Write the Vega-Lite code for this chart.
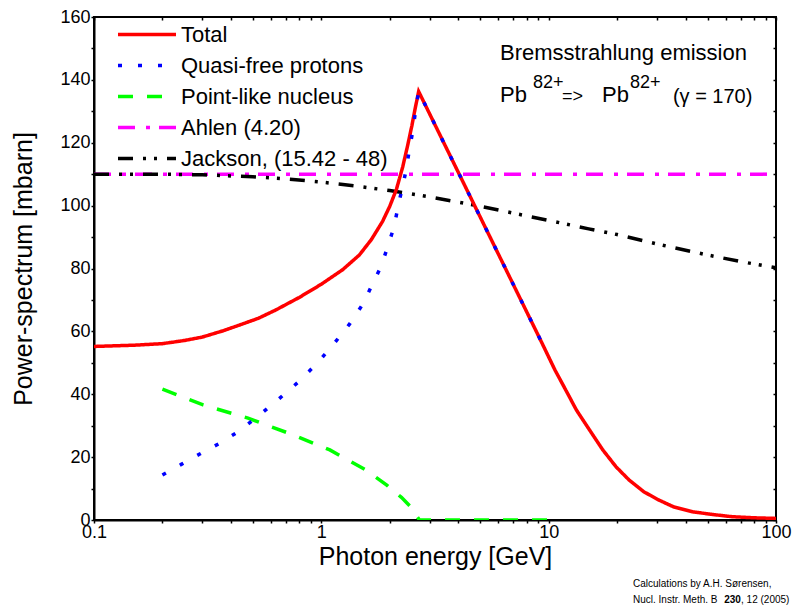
{
  "$schema": "https://vega.github.io/schema/vega-lite/v6.json",
  "width": 682,
  "height": 503,
  "autosize": {"type": "none"},
  "padding": {"left": 94, "top": 17, "right": 33, "bottom": 86},
  "background": "white",
  "config": {
    "font": "Liberation Sans",
    "view": {"stroke": "black", "strokeWidth": 2},
    "axis": {
      "labelFont": "Liberation Sans", "labelFontSize": 18, "labelColor": "black",
      "titleFont": "Liberation Sans", "titleFontSize": 25, "titleFontWeight": "normal", "titleColor": "black",
      "domainColor": "black", "domainWidth": 2, "tickColor": "black", "tickWidth": 1.5, "tickSize": 3,
      "grid": false, "labelFlush": false, "labelOverlap": false
    },
    "legend": {
      "labelFont": "Liberation Sans", "labelFontSize": 22, "labelColor": "black", "labelLimit": 400,
      "symbolType": "stroke", "symbolSize": 3364, "symbolStrokeWidth": 3.5,
      "labelOffset": 3, "rowPadding": 0, "padding": 0, "clipHeight": 31
    }
  },
  "datasets": {
    "curves": [
      {"series": "Ahlen (4.20)", "energy": 0.1, "power": 110},
      {"series": "Ahlen (4.20)", "energy": 100, "power": 110},

      {"series": "Jackson, (15.42 - 48)", "energy": 0.1, "power": 110},
      {"series": "Jackson, (15.42 - 48)", "energy": 0.2, "power": 110},
      {"series": "Jackson, (15.42 - 48)", "energy": 0.3, "power": 109.8},
      {"series": "Jackson, (15.42 - 48)", "energy": 0.5, "power": 109.2},
      {"series": "Jackson, (15.42 - 48)", "energy": 0.7, "power": 108.5},
      {"series": "Jackson, (15.42 - 48)", "energy": 1, "power": 107.5},
      {"series": "Jackson, (15.42 - 48)", "energy": 1.5, "power": 106},
      {"series": "Jackson, (15.42 - 48)", "energy": 2, "power": 104.8},
      {"series": "Jackson, (15.42 - 48)", "energy": 3, "power": 102.8},
      {"series": "Jackson, (15.42 - 48)", "energy": 5, "power": 99.8},
      {"series": "Jackson, (15.42 - 48)", "energy": 7, "power": 97.6},
      {"series": "Jackson, (15.42 - 48)", "energy": 10, "power": 95.3},
      {"series": "Jackson, (15.42 - 48)", "energy": 15, "power": 92.6},
      {"series": "Jackson, (15.42 - 48)", "energy": 20, "power": 90.8},
      {"series": "Jackson, (15.42 - 48)", "energy": 30, "power": 87.8},
      {"series": "Jackson, (15.42 - 48)", "energy": 50, "power": 84.3},
      {"series": "Jackson, (15.42 - 48)", "energy": 70, "power": 82.2},
      {"series": "Jackson, (15.42 - 48)", "energy": 100, "power": 80.2},

      {"series": "Total", "energy": 0.1, "power": 55.2},
      {"series": "Total", "energy": 0.15, "power": 55.6},
      {"series": "Total", "energy": 0.2, "power": 56.1},
      {"series": "Total", "energy": 0.25, "power": 57.1},
      {"series": "Total", "energy": 0.3, "power": 58.2},
      {"series": "Total", "energy": 0.37, "power": 60.2},
      {"series": "Total", "energy": 0.44, "power": 62.1},
      {"series": "Total", "energy": 0.53, "power": 64.2},
      {"series": "Total", "energy": 0.63, "power": 66.8},
      {"series": "Total", "energy": 0.8, "power": 70.8},
      {"series": "Total", "energy": 1.0, "power": 75.0},
      {"series": "Total", "energy": 1.24, "power": 79.6},
      {"series": "Total", "energy": 1.47, "power": 84.3},
      {"series": "Total", "energy": 1.66, "power": 89.2},
      {"series": "Total", "energy": 1.86, "power": 95.0},
      {"series": "Total", "energy": 2.0, "power": 99.8},
      {"series": "Total", "energy": 2.14, "power": 105.2},
      {"series": "Total", "energy": 2.28, "power": 112.3},
      {"series": "Total", "energy": 2.4, "power": 119.3},
      {"series": "Total", "energy": 2.5, "power": 125.3},
      {"series": "Total", "energy": 2.58, "power": 130.5},
      {"series": "Total", "energy": 2.68, "power": 136.3},
      {"series": "Total", "energy": 9.2, "power": 57.3},
      {"series": "Total", "energy": 10.66, "power": 47.7},
      {"series": "Total", "energy": 11.9, "power": 41.3},
      {"series": "Total", "energy": 13.24, "power": 35.0},
      {"series": "Total", "energy": 15.3, "power": 28.1},
      {"series": "Total", "energy": 17.3, "power": 22.3},
      {"series": "Total", "energy": 19.8, "power": 16.9},
      {"series": "Total", "energy": 22.6, "power": 12.7},
      {"series": "Total", "energy": 26.2, "power": 9.0},
      {"series": "Total", "energy": 30.4, "power": 6.4},
      {"series": "Total", "energy": 35.4, "power": 4.2},
      {"series": "Total", "energy": 43, "power": 2.6},
      {"series": "Total", "energy": 52, "power": 1.8},
      {"series": "Total", "energy": 64, "power": 1.05},
      {"series": "Total", "energy": 80, "power": 0.7},
      {"series": "Total", "energy": 100, "power": 0.5},

      {"series": "Point-like nucleus", "energy": 0.2, "power": 41.6},
      {"series": "Point-like nucleus", "energy": 0.302, "power": 36.6},
      {"series": "Point-like nucleus", "energy": 0.476, "power": 32.4},
      {"series": "Point-like nucleus", "energy": 0.75, "power": 27.1},
      {"series": "Point-like nucleus", "energy": 1.09, "power": 22.3},
      {"series": "Point-like nucleus", "energy": 1.57, "power": 15.9},
      {"series": "Point-like nucleus", "energy": 1.94, "power": 11.1},
      {"series": "Point-like nucleus", "energy": 2.25, "power": 7.2},
      {"series": "Point-like nucleus", "energy": 2.45, "power": 4.5},
      {"series": "Point-like nucleus", "energy": 2.6, "power": 1.8},
      {"series": "Point-like nucleus", "energy": 2.7, "power": 0},
      {"series": "Point-like nucleus", "energy": 10, "power": 0},

      {"series": "Quasi-free protons", "energy": 0.2, "power": 14.3},
      {"series": "Quasi-free protons", "energy": 0.242, "power": 17.7},
      {"series": "Quasi-free protons", "energy": 0.292, "power": 21.0},
      {"series": "Quasi-free protons", "energy": 0.357, "power": 24.4},
      {"series": "Quasi-free protons", "energy": 0.437, "power": 28.4},
      {"series": "Quasi-free protons", "energy": 0.535, "power": 33.4},
      {"series": "Quasi-free protons", "energy": 0.643, "power": 38.2},
      {"series": "Quasi-free protons", "energy": 0.787, "power": 43.7},
      {"series": "Quasi-free protons", "energy": 0.966, "power": 50.1},
      {"series": "Quasi-free protons", "energy": 1.14, "power": 56.2},
      {"series": "Quasi-free protons", "energy": 1.33, "power": 62.3},
      {"series": "Quasi-free protons", "energy": 1.52, "power": 68.6},
      {"series": "Quasi-free protons", "energy": 1.66, "power": 74.3},
      {"series": "Quasi-free protons", "energy": 1.83, "power": 80.6},
      {"series": "Quasi-free protons", "energy": 1.96, "power": 87.0},
      {"series": "Quasi-free protons", "energy": 2.09, "power": 93.3},
      {"series": "Quasi-free protons", "energy": 2.19, "power": 100.8},
      {"series": "Quasi-free protons", "energy": 2.28, "power": 106.1},
      {"series": "Quasi-free protons", "energy": 2.36, "power": 111.4},
      {"series": "Quasi-free protons", "energy": 2.44, "power": 117.8},
      {"series": "Quasi-free protons", "energy": 2.53, "power": 124.1},
      {"series": "Quasi-free protons", "energy": 2.6, "power": 130.5},
      {"series": "Quasi-free protons", "energy": 2.68, "power": 136.3},
      {"series": "Quasi-free protons", "energy": 9.2, "power": 57.3}
    ]
  },
  "resolve": {"axis": {"x": "independent", "y": "independent"}},
  "layer": [
    {
      "data": {"name": "curves"},
      "encoding": {
        "x": {
          "field": "energy", "type": "quantitative",
          "scale": {"type": "log", "domain": [0.1, 100], "nice": false},
          "axis": {
            "title": "Photon energy [GeV]",
            "values": [0.1, 0.2, 0.3, 0.4, 0.5, 0.6, 0.7, 0.8, 0.9, 1, 2, 3, 4, 5, 6, 7, 8, 9, 10, 20, 30, 40, 50, 60, 70, 80, 90, 100],
            "format": "~g",
            "labelExpr": "datum.value === 0.1 || datum.value === 1 || datum.value === 10 || datum.value === 100 ? datum.label : ''",
            "labelPadding": 0, "titlePadding": 3
          }
        },
        "y": {
          "field": "power", "type": "quantitative",
          "scale": {"domain": [0, 160], "nice": false},
          "axis": {
            "title": "Power-spectrum [mbarn]",
            "values": [0, 10, 20, 30, 40, 50, 60, 70, 80, 90, 100, 110, 120, 130, 140, 150, 160],
            "labelExpr": "datum.value % 20 === 0 ? datum.label : ''",
            "labelPadding": 1, "titlePadding": 23
          }
        },
        "color": {
          "field": "series", "type": "nominal",
          "scale": {
            "domain": ["Total", "Quasi-free protons", "Point-like nucleus", "Ahlen (4.20)", "Jackson, (15.42 - 48)"],
            "range": ["#ff0000", "#0000ff", "#00ff00", "#ff00ff", "#000000"]
          },
          "legend": {"title": null, "orient": "none", "legendX": 22, "legendY": 2}
        },
        "strokeDash": {
          "field": "series", "type": "nominal",
          "scale": {
            "domain": ["Total", "Quasi-free protons", "Point-like nucleus", "Ahlen (4.20)", "Jackson, (15.42 - 48)"],
            "range": [[1, 0], [4, 16], [15, 14], [17, 11, 4, 9], [15, 10, 3, 8, 3, 10]]
          },
          "legend": {"title": null, "orient": "none", "legendX": 22, "legendY": 2}
        }
      },
      "layer": [
        {
          "transform": [{"filter": "datum.series === 'Total' || datum.series === 'Ahlen (4.20)' || datum.series === 'Jackson, (15.42 - 48)'"}],
          "mark": {"type": "line", "strokeWidth": 3.5, "clip": true}
        },
        {
          "transform": [{"filter": "datum.series === 'Quasi-free protons' || datum.series === 'Point-like nucleus'"}],
          "mark": {"type": "line", "strokeWidth": 3.5, "clip": true}
        }
      ]
    },
    {
      "data": {"name": "curves"},
      "mark": {"type": "point", "opacity": 0},
      "encoding": {
        "x": {
          "field": "energy", "type": "quantitative",
          "scale": {"type": "log", "domain": [0.1, 100], "nice": false},
          "axis": {
            "orient": "top", "title": null, "labels": false, "domain": false, "tickSize": -3,
            "values": [0.1, 0.2, 0.3, 0.4, 0.5, 0.6, 0.7, 0.8, 0.9, 1, 2, 3, 4, 5, 6, 7, 8, 9, 10, 20, 30, 40, 50, 60, 70, 80, 90, 100]
          }
        },
        "y": {
          "field": "power", "type": "quantitative",
          "scale": {"domain": [0, 160], "nice": false},
          "axis": {
            "orient": "right", "title": null, "labels": false, "domain": false, "tickSize": -3,
            "values": [0, 10, 20, 30, 40, 50, 60, 70, 80, 90, 100, 110, 120, 130, 140, 150, 160]
          }
        }
      }
    },
    {
      "data": {"values": [{}]},
      "mark": {"type": "text", "text": "Bremsstrahlung emission", "align": "left", "baseline": "alphabetic", "fontSize": 22, "color": "black"},
      "encoding": {"x": {"datum": 6.107, "type": "quantitative", "axis": null}, "y": {"datum": 146.3, "type": "quantitative", "axis": null}}
    },
    {
      "data": {"values": [{}]},
      "mark": {"type": "text", "text": "Pb", "align": "left", "baseline": "alphabetic", "fontSize": 22, "color": "black"},
      "encoding": {"x": {"datum": 6.107, "type": "quantitative", "axis": null}, "y": {"datum": 133.1, "type": "quantitative", "axis": null}}
    },
    {
      "data": {"values": [{}]},
      "mark": {"type": "text", "text": "82+", "align": "left", "baseline": "alphabetic", "fontSize": 18, "color": "black"},
      "encoding": {"x": {"datum": 8.53, "type": "quantitative", "axis": null}, "y": {"datum": 137.3, "type": "quantitative", "axis": null}}
    },
    {
      "data": {"values": [{}]},
      "mark": {"type": "text", "text": "=>", "align": "left", "baseline": "middle", "fontSize": 18, "color": "black"},
      "encoding": {"x": {"datum": 11.45, "type": "quantitative", "axis": null}, "y": {"datum": 134.6, "type": "quantitative", "axis": null}}
    },
    {
      "data": {"values": [{}]},
      "mark": {"type": "text", "text": "Pb", "align": "left", "baseline": "alphabetic", "fontSize": 22, "color": "black"},
      "encoding": {"x": {"datum": 17.16, "type": "quantitative", "axis": null}, "y": {"datum": 133.1, "type": "quantitative", "axis": null}}
    },
    {
      "data": {"values": [{}]},
      "mark": {"type": "text", "text": "82+", "align": "left", "baseline": "alphabetic", "fontSize": 18, "color": "black"},
      "encoding": {"x": {"datum": 22.8, "type": "quantitative", "axis": null}, "y": {"datum": 137.3, "type": "quantitative", "axis": null}}
    },
    {
      "data": {"values": [{}]},
      "mark": {"type": "text", "text": "(γ = 170)", "align": "left", "baseline": "alphabetic", "fontSize": 20, "color": "black"},
      "encoding": {"x": {"datum": 35.2, "type": "quantitative", "axis": null}, "y": {"datum": 132.5, "type": "quantitative", "axis": null}}
    },
    {
      "data": {"values": [{}]},
      "mark": {"type": "text", "text": "Calculations by A.H. Sørensen,", "align": "left", "baseline": "alphabetic", "fontSize": 10, "color": "black"},
      "encoding": {"x": {"datum": 23.5, "type": "quantitative", "axis": null}, "y": {"datum": -21.2, "type": "quantitative", "axis": null}}
    },
    {
      "data": {"values": [{}]},
      "mark": {"type": "text", "text": "Nucl. Instr. Meth. B", "align": "left", "baseline": "alphabetic", "fontSize": 10, "color": "black"},
      "encoding": {"x": {"datum": 23.5, "type": "quantitative", "axis": null}, "y": {"datum": -26.5, "type": "quantitative", "axis": null}}
    },
    {
      "data": {"values": [{}]},
      "mark": {"type": "text", "text": "230", "align": "left", "baseline": "alphabetic", "fontSize": 10, "fontWeight": "bold", "color": "black"},
      "encoding": {"x": {"datum": 59.2, "type": "quantitative", "axis": null}, "y": {"datum": -26.5, "type": "quantitative", "axis": null}}
    },
    {
      "data": {"values": [{}]},
      "mark": {"type": "text", "text": ", 12 (2005)", "align": "left", "baseline": "alphabetic", "fontSize": 10, "color": "black"},
      "encoding": {"x": {"datum": 70.2, "type": "quantitative", "axis": null}, "y": {"datum": -26.5, "type": "quantitative", "axis": null}}
    }
  ]
}
